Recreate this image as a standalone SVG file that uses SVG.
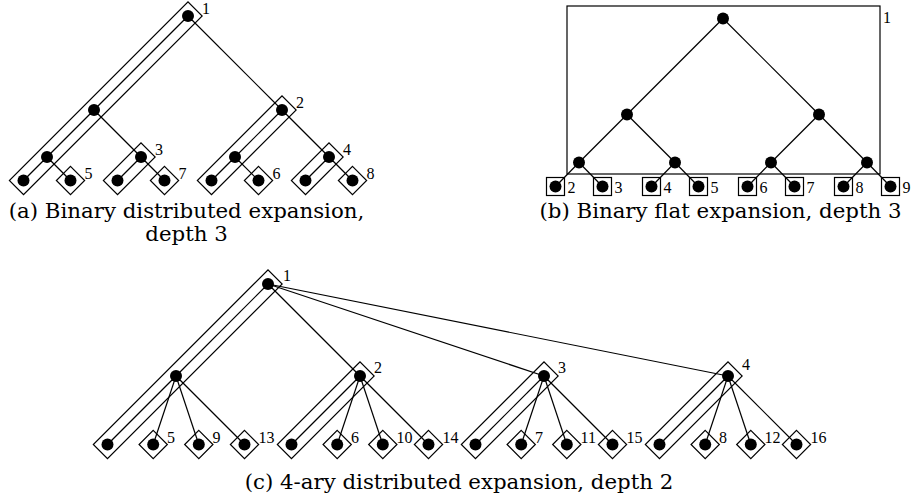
<svg xmlns="http://www.w3.org/2000/svg" xmlns:xlink="http://www.w3.org/1999/xlink" width="914" height="500" viewBox="0 0 914 500">
<style>
.edge{stroke:#000;stroke-width:1.2;fill:none}
.box{stroke:#000;stroke-width:1.2;fill:none}
.dot{fill:#000}
.lbl{font-family:"Liberation Serif",serif;font-size:16px;fill:#000}
.cap{font-family:"DejaVu Serif",serif;font-size:21.3px;fill:#000;text-anchor:middle}
</style>
<defs>
<polygon id="dia" class="box" points="0,-14.14 14.14,0 0,14.14 -14.14,0"/>
<rect id="sq" class="box" x="-9" y="-9" width="18" height="18"/>
<circle id="pt" class="dot" r="6"/>
</defs>

<!-- Panel (a) -->
<g id="a-edges" class="edge">
<line x1="188" y1="16" x2="94" y2="110"/>
<line x1="188" y1="16" x2="282" y2="110"/>
<line x1="94" y1="110" x2="47" y2="157"/>
<line x1="94" y1="110" x2="141" y2="157"/>
<line x1="282" y1="110" x2="235" y2="157"/>
<line x1="282" y1="110" x2="329" y2="157"/>
<line x1="47" y1="157" x2="23.5" y2="180.5"/>
<line x1="47" y1="157" x2="70.5" y2="180.5"/>
<line x1="141" y1="157" x2="117.5" y2="180.5"/>
<line x1="141" y1="157" x2="164.5" y2="180.5"/>
<line x1="235" y1="157" x2="211.5" y2="180.5"/>
<line x1="235" y1="157" x2="258.5" y2="180.5"/>
<line x1="329" y1="157" x2="305.5" y2="180.5"/>
<line x1="329" y1="157" x2="352.5" y2="180.5"/>
</g>
<g id="a-box1"><rect class="box" x="-10" y="-10" width="252.6" height="20" transform="translate(188,16) rotate(135)"/><text class="lbl" x="202" y="14">1</text></g>
<g id="a-box2"><rect class="box" x="-10" y="-10" width="119.7" height="20" transform="translate(282,110) rotate(135)"/><text class="lbl" x="296" y="108">2</text></g>
<g id="a-box3"><rect class="box" x="-10" y="-10" width="53.2" height="20" transform="translate(141,157) rotate(135)"/><text class="lbl" x="155" y="155">3</text></g>
<g id="a-box4"><rect class="box" x="-10" y="-10" width="53.2" height="20" transform="translate(329,157) rotate(135)"/><text class="lbl" x="343" y="155">4</text></g>
<g id="a-box5"><use href="#dia" x="70.5" y="180.5"/><text class="lbl" x="84.5" y="178.5">5</text></g>
<g id="a-box6"><use href="#dia" x="258.5" y="180.5"/><text class="lbl" x="272.5" y="178.5">6</text></g>
<g id="a-box7"><use href="#dia" x="164.5" y="180.5"/><text class="lbl" x="178.5" y="178.5">7</text></g>
<g id="a-box8"><use href="#dia" x="352.5" y="180.5"/><text class="lbl" x="366.5" y="178.5">8</text></g>
<g id="a-nodes">
<g id="a-n0"><use href="#pt" x="188" y="16"/></g>
<g id="a-n1"><use href="#pt" x="94" y="110"/></g>
<g id="a-n2"><use href="#pt" x="282" y="110"/></g>
<g id="a-n3"><use href="#pt" x="47" y="157"/></g>
<g id="a-n4"><use href="#pt" x="141" y="157"/></g>
<g id="a-n5"><use href="#pt" x="235" y="157"/></g>
<g id="a-n6"><use href="#pt" x="329" y="157"/></g>
<g id="a-n7"><use href="#pt" x="23.5" y="180.5"/></g>
<g id="a-n8"><use href="#pt" x="70.5" y="180.5"/></g>
<g id="a-n9"><use href="#pt" x="117.5" y="180.5"/></g>
<g id="a-n10"><use href="#pt" x="164.5" y="180.5"/></g>
<g id="a-n11"><use href="#pt" x="211.5" y="180.5"/></g>
<g id="a-n12"><use href="#pt" x="258.5" y="180.5"/></g>
<g id="a-n13"><use href="#pt" x="305.5" y="180.5"/></g>
<g id="a-n14"><use href="#pt" x="352.5" y="180.5"/></g>
</g>
<text class="cap" x="186.5" y="218">(a) Binary distributed expansion,</text>
<text class="cap" x="186.5" y="241">depth 3</text>

<!-- Panel (b) -->
<g id="b-edges" class="edge">
<line x1="723" y1="18.5" x2="627" y2="114.5"/>
<line x1="723" y1="18.5" x2="819" y2="114.5"/>
<line x1="627" y1="114.5" x2="579" y2="162.5"/>
<line x1="627" y1="114.5" x2="675" y2="162.5"/>
<line x1="819" y1="114.5" x2="771" y2="162.5"/>
<line x1="819" y1="114.5" x2="867" y2="162.5"/>
<line x1="579" y1="162.5" x2="555.5" y2="186.5"/>
<line x1="579" y1="162.5" x2="602.5" y2="186.5"/>
<line x1="675" y1="162.5" x2="651.5" y2="186.5"/>
<line x1="675" y1="162.5" x2="698.5" y2="186.5"/>
<line x1="771" y1="162.5" x2="747.5" y2="186.5"/>
<line x1="771" y1="162.5" x2="794.5" y2="186.5"/>
<line x1="867" y1="162.5" x2="843.5" y2="186.5"/>
<line x1="867" y1="162.5" x2="890.5" y2="186.5"/>
</g>
<g id="b-box1"><rect class="box" x="567" y="6" width="313" height="168"/><text class="lbl" x="883" y="23">1</text></g>
<g id="b-box2"><use href="#sq" x="555.5" y="186.5"/><text class="lbl" x="567.5" y="192.5">2</text></g>
<g id="b-box3"><use href="#sq" x="602.5" y="186.5"/><text class="lbl" x="614.5" y="192.5">3</text></g>
<g id="b-box4"><use href="#sq" x="651.5" y="186.5"/><text class="lbl" x="663.5" y="192.5">4</text></g>
<g id="b-box5"><use href="#sq" x="698.5" y="186.5"/><text class="lbl" x="710.5" y="192.5">5</text></g>
<g id="b-box6"><use href="#sq" x="747.5" y="186.5"/><text class="lbl" x="759.5" y="192.5">6</text></g>
<g id="b-box7"><use href="#sq" x="794.5" y="186.5"/><text class="lbl" x="806.5" y="192.5">7</text></g>
<g id="b-box8"><use href="#sq" x="843.5" y="186.5"/><text class="lbl" x="855.5" y="192.5">8</text></g>
<g id="b-box9"><use href="#sq" x="890.5" y="186.5"/><text class="lbl" x="902.5" y="192.5">9</text></g>
<g id="b-nodes">
<g id="b-n0"><use href="#pt" x="723" y="18.5"/></g>
<g id="b-n1"><use href="#pt" x="627" y="114.5"/></g>
<g id="b-n2"><use href="#pt" x="819" y="114.5"/></g>
<g id="b-n3"><use href="#pt" x="579" y="162.5"/></g>
<g id="b-n4"><use href="#pt" x="675" y="162.5"/></g>
<g id="b-n5"><use href="#pt" x="771" y="162.5"/></g>
<g id="b-n6"><use href="#pt" x="867" y="162.5"/></g>
<g id="b-n7"><use href="#pt" x="555.5" y="186.5"/></g>
<g id="b-n8"><use href="#pt" x="602.5" y="186.5"/></g>
<g id="b-n9"><use href="#pt" x="651.5" y="186.5"/></g>
<g id="b-n10"><use href="#pt" x="698.5" y="186.5"/></g>
<g id="b-n11"><use href="#pt" x="747.5" y="186.5"/></g>
<g id="b-n12"><use href="#pt" x="794.5" y="186.5"/></g>
<g id="b-n13"><use href="#pt" x="843.5" y="186.5"/></g>
<g id="b-n14"><use href="#pt" x="890.5" y="186.5"/></g>
</g>
<text class="cap" x="720.5" y="218">(b) Binary flat expansion, depth 3</text>

<!-- Panel (c) -->
<g id="c-edges" class="edge">
<line x1="268" y1="284" x2="176" y2="376"/>
<line x1="268" y1="284" x2="360" y2="376"/>
<line x1="268" y1="284" x2="544" y2="376"/>
<line x1="268" y1="284" x2="728" y2="376"/>
<line x1="176" y1="376" x2="107.5" y2="444.5"/>
<line x1="176" y1="376" x2="153.2" y2="444.5"/>
<line x1="176" y1="376" x2="198.8" y2="444.5"/>
<line x1="176" y1="376" x2="244.5" y2="444.5"/>
<line x1="360" y1="376" x2="291.5" y2="444.5"/>
<line x1="360" y1="376" x2="337.2" y2="444.5"/>
<line x1="360" y1="376" x2="382.8" y2="444.5"/>
<line x1="360" y1="376" x2="428.5" y2="444.5"/>
<line x1="544" y1="376" x2="475.5" y2="444.5"/>
<line x1="544" y1="376" x2="521.2" y2="444.5"/>
<line x1="544" y1="376" x2="566.8" y2="444.5"/>
<line x1="544" y1="376" x2="612.5" y2="444.5"/>
<line x1="728" y1="376" x2="659.5" y2="444.5"/>
<line x1="728" y1="376" x2="705.2" y2="444.5"/>
<line x1="728" y1="376" x2="750.8" y2="444.5"/>
<line x1="728" y1="376" x2="796.5" y2="444.5"/>
</g>
<g id="c-box1"><rect class="box" x="-10" y="-10" width="247" height="20" transform="translate(268,284) rotate(135)"/><text class="lbl" x="283" y="281">1</text></g>
<g id="c-box2"><rect class="box" x="-10" y="-10" width="116.9" height="20" transform="translate(360,376) rotate(135)"/><text class="lbl" x="374" y="373">2</text></g>
<g id="c-box3"><rect class="box" x="-10" y="-10" width="116.9" height="20" transform="translate(544,376) rotate(135)"/><text class="lbl" x="558" y="373">3</text></g>
<g id="c-box4"><rect class="box" x="-10" y="-10" width="116.9" height="20" transform="translate(728,376) rotate(135)"/><text class="lbl" x="742" y="370">4</text></g>
<g id="c-box5"><use href="#dia" x="153.2" y="444.5"/><text class="lbl" x="167" y="443">5</text></g>
<g id="c-box9"><use href="#dia" x="198.8" y="444.5"/><text class="lbl" x="212.6" y="443">9</text></g>
<g id="c-box13"><use href="#dia" x="244.5" y="444.5"/><text class="lbl" x="258.5" y="443">13</text></g>
<g id="c-box6"><use href="#dia" x="337.2" y="444.5"/><text class="lbl" x="351" y="443">6</text></g>
<g id="c-box10"><use href="#dia" x="382.8" y="444.5"/><text class="lbl" x="396.6" y="443">10</text></g>
<g id="c-box14"><use href="#dia" x="428.5" y="444.5"/><text class="lbl" x="442.5" y="443">14</text></g>
<g id="c-box7"><use href="#dia" x="521.2" y="444.5"/><text class="lbl" x="535" y="443">7</text></g>
<g id="c-box11"><use href="#dia" x="566.8" y="444.5"/><text class="lbl" x="580.6" y="443">11</text></g>
<g id="c-box15"><use href="#dia" x="612.5" y="444.5"/><text class="lbl" x="626.5" y="443">15</text></g>
<g id="c-box8"><use href="#dia" x="705.2" y="444.5"/><text class="lbl" x="719" y="443">8</text></g>
<g id="c-box12"><use href="#dia" x="750.8" y="444.5"/><text class="lbl" x="764.6" y="443">12</text></g>
<g id="c-box16"><use href="#dia" x="796.5" y="444.5"/><text class="lbl" x="810.5" y="443">16</text></g>
<g id="c-nodes">
<g id="c-n0"><use href="#pt" x="268" y="284"/></g>
<g id="c-n1"><use href="#pt" x="176" y="376"/></g>
<g id="c-n2"><use href="#pt" x="360" y="376"/></g>
<g id="c-n3"><use href="#pt" x="544" y="376"/></g>
<g id="c-n4"><use href="#pt" x="728" y="376"/></g>
<g id="c-l1"><use href="#pt" x="107.5" y="444.5"/><use href="#pt" x="153.2" y="444.5"/><use href="#pt" x="198.8" y="444.5"/><use href="#pt" x="244.5" y="444.5"/></g>
<g id="c-l2"><use href="#pt" x="291.5" y="444.5"/><use href="#pt" x="337.2" y="444.5"/><use href="#pt" x="382.8" y="444.5"/><use href="#pt" x="428.5" y="444.5"/></g>
<g id="c-l3"><use href="#pt" x="475.5" y="444.5"/><use href="#pt" x="521.2" y="444.5"/><use href="#pt" x="566.8" y="444.5"/><use href="#pt" x="612.5" y="444.5"/></g>
<g id="c-l4"><use href="#pt" x="659.5" y="444.5"/><use href="#pt" x="705.2" y="444.5"/><use href="#pt" x="750.8" y="444.5"/><use href="#pt" x="796.5" y="444.5"/></g>
</g>
<text class="cap" x="459" y="489">(c) 4-ary distributed expansion, depth 2</text>
</svg>
